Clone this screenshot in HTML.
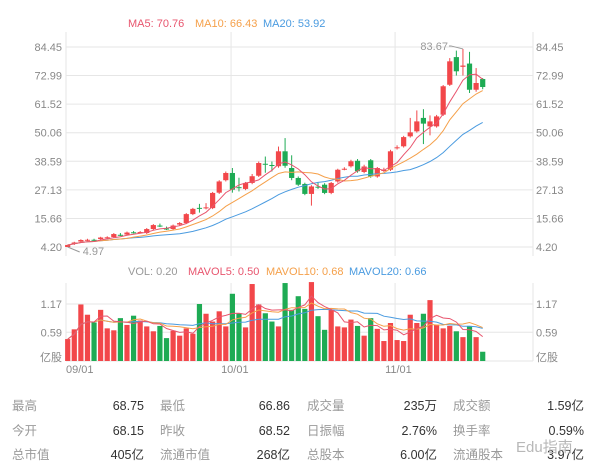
<!DOCTYPE html>
<html><head><meta charset="utf-8">
<style>
html,body{margin:0;padding:0;background:#fff;width:600px;height:471px;overflow:hidden;font-family:"Liberation Sans","Noto Sans CJK SC",sans-serif;}
#chart{position:absolute;left:0;top:0}
.tbl{position:absolute;left:0;top:0;width:600px;height:471px;font-size:12.5px;white-space:nowrap;}
.lb{position:absolute;color:#9a9a9a;white-space:nowrap;line-height:16px;height:16px;}
.vl{position:absolute;color:#333;text-align:right;width:80px;white-space:nowrap;line-height:16px;height:16px;}
</style></head><body>
<svg id="chart" width="600" height="390" xmlns="http://www.w3.org/2000/svg"></svg>
<div class="tbl">
<span class="lb" style="left:12px;top:398px">最高</span><span class="vl" style="left:64px;top:398px">68.75</span>
<span class="lb" style="left:160px;top:398px">最低</span><span class="vl" style="left:210px;top:398px">66.86</span>
<span class="lb" style="left:307px;top:398px">成交量</span><span class="vl" style="left:357px;top:398px">235万</span>
<span class="lb" style="left:453px;top:398px">成交额</span><span class="vl" style="left:504px;top:398px">1.59亿</span>
<span class="lb" style="left:12px;top:423px">今开</span><span class="vl" style="left:64px;top:423px">68.15</span>
<span class="lb" style="left:160px;top:423px">昨收</span><span class="vl" style="left:210px;top:423px">68.52</span>
<span class="lb" style="left:307px;top:423px">日振幅</span><span class="vl" style="left:357px;top:423px">2.76%</span>
<span class="lb" style="left:453px;top:423px">换手率</span><span class="vl" style="left:504px;top:423px">0.59%</span>
<span class="lb" style="left:12px;top:447px">总市值</span><span class="vl" style="left:64px;top:447px">405亿</span>
<span class="lb" style="left:160px;top:447px">流通市值</span><span class="vl" style="left:210px;top:447px">268亿</span>
<span class="lb" style="left:307px;top:447px">总股本</span><span class="vl" style="left:357px;top:447px">6.00亿</span>
<span class="lb" style="left:453px;top:447px">流通股本</span><span class="vl" style="left:504px;top:447px">3.97亿</span>
<span class="lb" style="left:516px;top:440px;font-size:15px;color:#b8b8b8">Edu指南</span>
</div>
<script>
const opens=[4.2,5.4,6.4,7.0,7.1,7.4,8.0,8.2,9.1,9.2,10.1,10.0,9.8,11.4,12.8,11.6,11.4,13.2,13.8,17.4,19.9,19.8,19.8,26,31,33.9,28.2,27.5,29.9,32.8,37.6,37.1,36.6,42.6,35.9,31.9,29.5,25.5,28.4,29.2,25.9,30.5,35.4,36.6,38.8,34.3,39,32.5,34.8,35.2,43.8,44.6,48.6,50.6,56,52.6,52.6,57.3,69.3,80.4,76.5,77.8,67.3,71.6];
const closes=[5.0,6.0,7.0,7.1,7.0,8.0,8.1,9.4,9.0,10.0,10.0,10.2,11.4,13.0,12.7,11.5,12.8,13.8,17.4,19.5,19.8,20.1,25.9,30.5,33.9,27.2,28.0,29.9,32.6,37.9,37.4,37.0,42.6,36.8,31.9,29.2,25.5,28.5,28.2,25.9,29.9,35.2,35.6,38.6,34.6,36.5,32.5,35.9,35.1,42.6,44.2,48.3,50.2,54.6,53.7,54.6,56.6,68.7,78.7,74.7,77.0,67.3,70.0,68.4];
const highs=[5.2,6.3,7.3,7.5,7.5,8.3,8.5,9.8,9.8,10.4,10.6,10.6,11.8,13.4,13.6,12.4,13.2,14.2,17.8,19.9,21.5,21.8,26.3,31,34.5,35.9,32,30.3,33.5,38.5,40.5,38.5,44.5,47.9,41,32.5,30,29,30,29.8,30.3,35.6,36.2,39.2,39.5,37.2,39.5,36.3,36,43.2,45,48.8,56,59,59.5,57,57.2,69.2,80,83,83.67,82.5,76,72];
const lows=[4.2,5.0,6.0,6.6,6.6,7.1,7.6,7.9,8.6,8.9,9.6,9.6,9.4,11.0,12.2,11.0,11.0,12.8,13.4,17.0,18,19.3,19.4,25.5,30.5,26,26.5,27,29.4,32.3,34,34.5,36,36,31,28.7,25,20.8,27.5,25.4,25.4,30,35,36.1,34,33.8,32,32,34.3,34.7,43.3,44.1,48.1,50.1,45.5,49,52.1,56.8,68.8,73,73,66,66.5,67.5];
const volumes=[0.45,0.65,1.16,0.95,0.79,1.05,0.67,0.63,0.88,0.74,0.93,0.83,0.71,0.61,0.72,0.47,0.62,0.52,0.67,0.56,1.17,0.97,0.81,1.02,0.71,1.38,0.98,0.69,1.58,1.16,0.98,0.81,0.71,1.60,1.05,1.33,1.07,1.62,0.92,0.64,1.05,0.71,0.69,0.85,0.72,0.52,0.88,0.66,0.41,0.78,0.43,0.41,0.95,0.78,0.97,1.25,0.74,0.67,0.72,0.61,0.49,0.72,0.49,0.19];
const priceTicks=["4.20","15.66","27.13","38.59","50.06","61.52","72.99","84.45"];
const volTicks=["0.59","1.17"];
const dateLabels=["09/01","10/01","11/01"];
const dateIndex=[0,24.8,49.7];

const svg=document.getElementById('chart');
const NS='http://www.w3.org/2000/svg';
const L=66,R=533,P0=247,P1=47,V0=361;
const RED='#f2474a',GREEN='#1eab54';
const xS=i=>67.7+i*(482.7-67.7)/(closes.length-1);
const yP=p=>P0-(p-4.20)*(P0-P1)/(84.45-4.20);
const yV=v=>V0-v*(V0-304)/1.17;
function mk(tag,attrs,parent){const e=document.createElementNS(NS,tag);for(const k in attrs)e.setAttribute(k,attrs[k]);(parent||svg).appendChild(e);return e;}
function txt(s,x,y,fill,anchor,size){const t=mk('text',{x:x,y:y,fill:fill,'font-size':size||11,'text-anchor':anchor||'start','font-family':'Liberation Sans, Noto Sans CJK SC, sans-serif'});t.textContent=s;return t;}
function ma(arr,n){return arr.map((_,i)=>{const s=Math.max(0,i-n+1);let t=0;for(let j=s;j<=i;j++)t+=arr[j];return t/(i-s+1);});}
function line(vals,f,color,name){const d=vals.map((v,i)=>(i?'L':'M')+xS(i).toFixed(1)+','+f(v).toFixed(1)).join('');const p=mk('path',{d:d,fill:'none',stroke:color,'stroke-width':1});}

priceTicks.forEach(t=>{const y=yP(parseFloat(t));const g=mk('line',{x1:L,x2:R,y1:y,y2:y,stroke:'#e6e6e6'});
const a=txt(t,62,y+4,'#888','end');
const b=txt(t,536,y+4,'#888','start');});
[L,R].forEach(x=>{mk('line',{x1:x,x2:x,y1:32,y2:256,stroke:'#e6e6e6'});mk('line',{x1:x,x2:x,y1:283,y2:V0,stroke:'#e6e6e6'});});
dateIndex.slice(1).forEach(i=>{const x=xS(i);mk('line',{x1:x,x2:x,y1:32,y2:256,stroke:'#e6e6e6'});mk('line',{x1:x,x2:x,y1:283,y2:V0,stroke:'#e6e6e6'});});
mk('line',{x1:L,x2:R,y1:V0,y2:V0,stroke:'#e6e6e6'});
volTicks.forEach(t=>{const y=yV(parseFloat(t));mk('line',{x1:L,x2:R,y1:y,y2:y,stroke:'#e6e6e6'});
const a=txt(t,62,y+4,'#888','end');
const b=txt(t,536,y+4,'#888','start');});
const u1=txt('亿股',62,V0,'#888','end');
const u2=txt('亿股',536,V0,'#888','start');
dateLabels.forEach((d,k)=>{const x=k===0?66:xS(dateIndex[k])-10;const t=txt(d,x,373,'#888','start');});

closes.forEach((c,i)=>{const o=opens[i],up=c>=o,col=up?RED:GREEN,x=xS(i);
const w=mk('line',{x1:x,x2:x,y1:yP(highs[i]),y2:yP(lows[i]),stroke:col,'stroke-width':1});
const top=yP(Math.max(o,c)),h=Math.max(1,Math.abs(yP(o)-yP(c)));
const r=mk('rect',{x:x-2.6,y:top,width:5.2,height:h,fill:col});});
volumes.forEach((v,i)=>{const up=closes[i]>=opens[i];const r=mk('rect',{x:xS(i)-2.6,y:yV(v),width:5.2,height:V0-yV(v),fill:up?RED:GREEN});});

line(ma(closes,20),yP,'#4a9be0','ma20-line');
line(ma(closes,10),yP,'#f5a04a','ma10-line');
line(ma(closes,5),yP,'#e8556e','ma5-line');
line(ma(volumes,20),yV,'#4a9be0','mavol20-line');
line(ma(volumes,10),yV,'#f5a04a','mavol10-line');
line(ma(volumes,5),yV,'#e8556e','mavol5-line');

const hi=highs.indexOf(Math.max(...highs));
mk('polyline',{points:`${xS(hi)},${yP(highs[hi])} ${xS(hi)-12},${yP(highs[hi])-3} ${xS(hi)-14},${yP(highs[hi])-3}`,fill:'none',stroke:'#999'});
const ah=txt(highs[hi].toFixed(2),xS(hi)-15,yP(highs[hi])+1,'#999','end');
mk('line',{x1:xS(0),y1:yP(lows[0]),x2:xS(0)+12,y2:yP(lows[0])+5,stroke:'#999'});
const al=txt('4.97',xS(0)+15,yP(lows[0])+8,'#999','start');

[['MA5: 70.76',128,'#e8556e'],['MA10: 66.43',195,'#f5a04a'],['MA20: 53.92',263,'#4a9be0']].forEach(a=>{const t=txt(a[0],a[1],27,a[2]);});
[['VOL: 0.20',128,'#999'],['MAVOL5: 0.50',188,'#e8556e'],['MAVOL10: 0.68',266,'#f5a04a'],['MAVOL20: 0.66',349,'#4a9be0']].forEach(a=>{const t=txt(a[0],a[1],275,a[2]);});
</script>
</body></html>
